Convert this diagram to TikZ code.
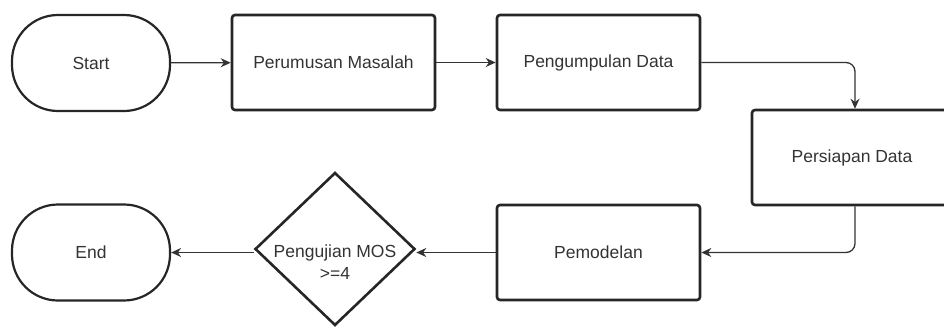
\documentclass[tikz,border=0pt]{standalone}
\usepackage{fontspec}
\setmainfont{Liberation Sans}
\usetikzlibrary{shapes.geometric,arrows.meta}
\definecolor{txt}{HTML}{333333}
\begin{document}
\begin{tikzpicture}[x=1pt,y=-1pt,
  font=\fontsize{17.5}{22}\selectfont,
  procbox/.style={draw=black!85, line width=2.6pt, rounded corners=3pt, minimum width=203pt, minimum height=95pt, text=txt, inner sep=0pt},
  terminal/.style={draw=black!85, line width=2.2pt, rounded corners=46pt, minimum width=158pt, minimum height=96pt, text=txt, inner sep=0pt},
  decision/.style={draw=black!85, line width=2.6pt, diamond, minimum width=160pt, minimum height=153pt, inner sep=0pt},
  conn/.style={draw=black!80, line width=1.3pt, -{Stealth[length=10pt,width=9pt]}, rounded corners=9pt}]
\useasboundingbox (0,0) rectangle (944,327);
\node[terminal] (start) at (91,63) {Start};
\node[procbox] (rumus) at (333.5,62.5) {Perumusan Masalah};
\node[procbox] (kumpul) at (598.5,62.5) {Pengumpulan Data};
\node[procbox, minimum width=214pt] (siap) at (859,157.5) {\hspace*{-14pt}Persiapan Data};
\node[procbox] (model) at (598.5,252.5) {Pemodelan};
\node[decision] (mos) at (335,249) {};
\node[text=txt, align=center, inner sep=0pt] (mostext) at (335,262) {Pengujian MOS\\>=4};
\node[terminal] (end) at (91,252.5) {End};
\draw[conn] (start) -- (rumus);
\draw[conn] (rumus) -- (kumpul);
\draw[conn] (kumpul.east) -| (855,0 |- siap.north);
\draw[conn] (855,0 |- siap.south) |- (model.east);
\draw[conn] (model.west) -- (mos.east |- model.west);
\draw[conn] (mos.west |- model.west) -- (end.east |- model.west);
\end{tikzpicture}
\end{document}
